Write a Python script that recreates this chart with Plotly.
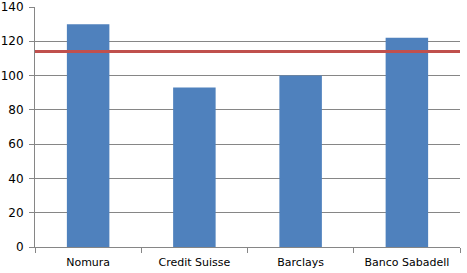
import plotly.graph_objects as go

categories = ["Nomura", "Credit Suisse", "Barclays", "Banco Sabadell"]
values = [130, 93, 100, 122]
threshold = 114
y_ticks = [0, 20, 40, 60, 80, 100, 120, 140]

fig = go.Figure()
fig.add_trace(go.Bar(x=categories, y=values, marker_color="#4F81BD", width=0.4,
                     marker_line_width=0, showlegend=False))
fig.add_trace(go.Scatter(x=[0, 1], y=[threshold, threshold], xaxis="x2", mode="lines",
                         line=dict(color="#C0504D", width=3), showlegend=False))

fig.update_layout(
    width=467, height=273,
    margin=dict(l=35, r=7, t=7, b=26),
    plot_bgcolor="white", paper_bgcolor="white",
    font=dict(family="DejaVu Sans", size=11, color="black"),
    bargap=0.6,
    xaxis=dict(showline=True, linecolor="#868686", linewidth=1, ticks="outside",
               tickson="boundaries", ticklen=5, tickcolor="#868686", automargin=False,
               showgrid=False, tickfont=dict(size=11), ticklabelstandoff=5),
    xaxis2=dict(overlaying="x", range=[0, 1], visible=False),
    yaxis=dict(range=[0, 140], tickvals=y_ticks, showline=True, linecolor="#868686",
               linewidth=1, ticks="outside", ticklen=5, tickcolor="#868686", automargin=False,
               showgrid=True, gridcolor="#868686", gridwidth=1, zeroline=False,
               tickfont=dict(size=12), ticklabelstandoff=3),
)

fig.write_html("out.html")
